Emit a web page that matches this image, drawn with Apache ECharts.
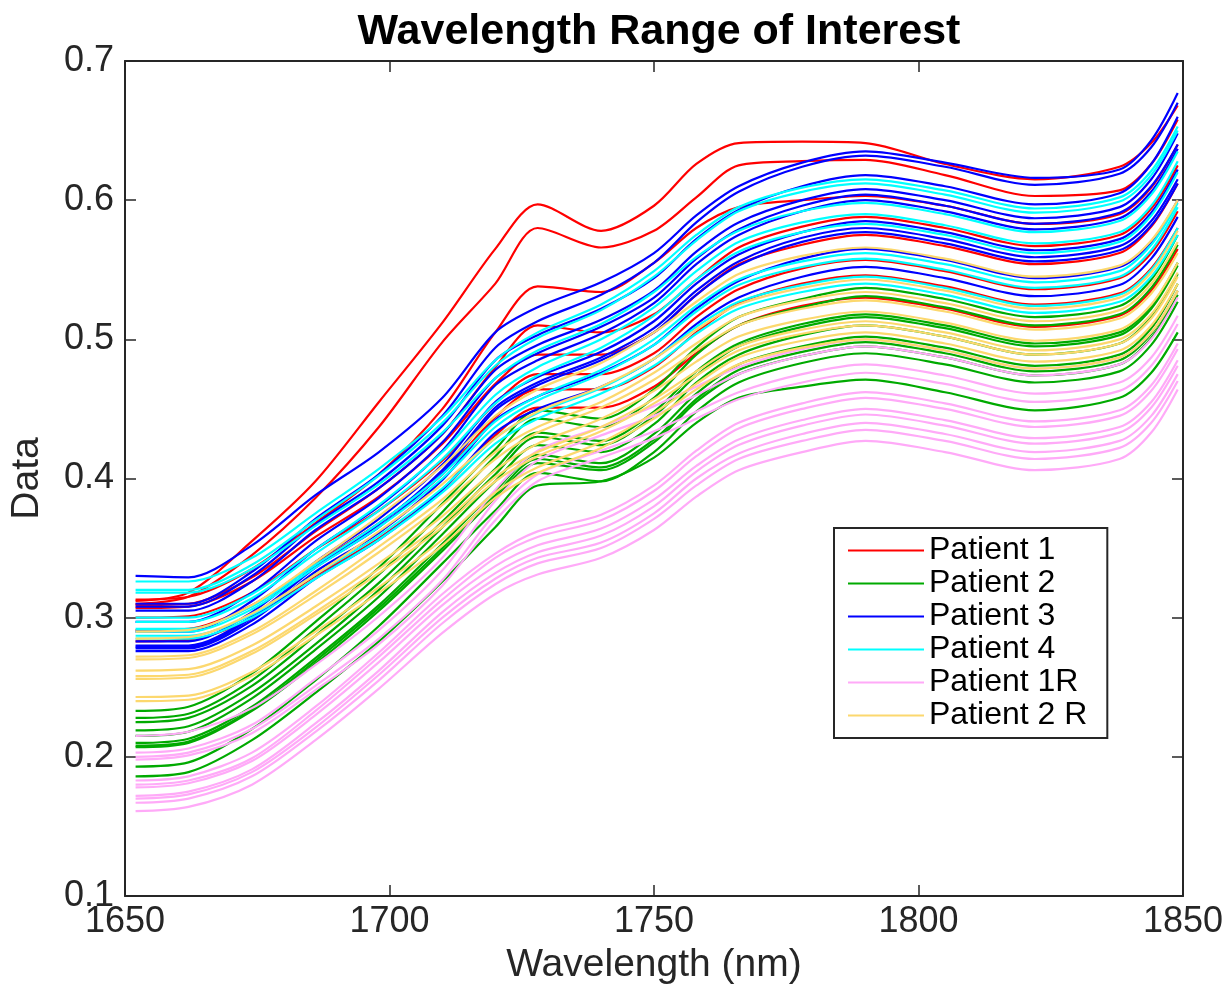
<!DOCTYPE html>
<html>
<head>
<meta charset="utf-8">
<script src="https://cdn.jsdelivr.net/npm/echarts@6/dist/echarts.min.js"></script>
<style>
html,body{margin:0;padding:0;background:#fff;}
#chart{width:1230px;height:990px;}
</style>
</head>
<body>
<div id="chart"></div>
<script>
// Wavelength sample points (nm)
var wavelengths = [1652,1662,1674,1686,1698,1710,1720,1728,1740,1750,1758,1766,1778,1790,1805,1822,1838,1844,1849];

var patientNames = ['Patient 1','Patient 2','Patient 3','Patient 4','Patient 1R','Patient 2 R'];
var patientColors = ['#ff0000','#00aa00','#0000ff','#00ffff','#ffaaf8','#fcd86e'];

var patient1 = [
  [.312,.318,.355,.398,.455,.512,.565,.597,.578,.596,.626,.641,.642,.641,.626,.615,.624,.641,.668],
  [.310,.315,.345,.386,.437,.498,.540,.580,.566,.578,.602,.625,.628,.629,.618,.603,.607,.626,.658],
  [.313,.315,.335,.368,.403,.450,.505,.538,.534,.555,.580,.595,.600,.603,.596,.583,.590,.609,.640],
  [.309,.310,.329,.362,.393,.432,.480,.510,.505,.518,.543,.566,.581,.588,.580,.567,.575,.594,.625],
  [.307,.308,.326,.358,.387,.425,.468,.489,.489,.505,.532,.554,.568,.575,.567,.554,.562,.581,.612],
  [.300,.301,.318,.349,.377,.413,.454,.475,.475,.490,.516,.536,.551,.557,.549,.536,.544,.562,.592],
  [.291,.292,.309,.339,.368,.403,.444,.464,.464,.480,.505,.526,.540,.546,.538,.525,.533,.551,.580],
  [.283,.284,.300,.330,.357,.392,.431,.451,.451,.466,.490,.510,.524,.530,.522,.509,.517,.535,.565]
];

var patient2 = [
  [.233,.236,.260,.297,.336,.382,.421,.449,.443,.464,.494,.516,.529,.537,.529,.516,.524,.543,.575],
  [.228,.231,.255,.292,.331,.376,.416,.443,.437,.458,.489,.510,.523,.531,.523,.510,.518,.537,.568],
  [.225,.228,.251,.287,.325,.369,.407,.433,.427,.448,.477,.497,.511,.518,.510,.497,.505,.524,.555],
  [.219,.222,.246,.281,.320,.365,.403,.430,.424,.445,.474,.495,.509,.516,.508,.495,.503,.522,.553],
  [.215,.218,.242,.277,.315,.360,.398,.424,.419,.439,.469,.489,.503,.510,.502,.489,.497,.516,.547],
  [.210,.213,.236,.271,.309,.353,.391,.417,.411,.432,.461,.482,.495,.502,.494,.481,.489,.508,.540],
  [.208,.211,.234,.269,.307,.350,.388,.414,.408,.428,.457,.478,.491,.498,.490,.477,.485,.504,.535],
  [.207,.210,.233,.267,.305,.348,.386,.411,.406,.426,.455,.475,.488,.495,.487,.474,.482,.501,.532],
  [.193,.196,.220,.255,.294,.339,.377,.404,.398,.419,.448,.469,.483,.490,.482,.469,.477,.496,.527],
  [.186,.189,.212,.246,.283,.326,.365,.395,.398,.415,.440,.458,.466,.471,.462,.449,.458,.476,.505]
];

var patient3 = [
  [.330,.329,.352,.388,.419,.458,.505,.523,.541,.562,.589,.610,.627,.635,.627,.616,.622,.643,.677],
  [.310,.310,.333,.371,.403,.445,.494,.513,.532,.555,.584,.606,.624,.632,.624,.611,.619,.638,.670],
  [.308,.308,.330,.367,.398,.438,.485,.503,.522,.544,.572,.593,.610,.618,.610,.597,.605,.626,.660],
  [.305,.305,.326,.363,.393,.432,.478,.496,.514,.535,.563,.584,.600,.608,.600,.587,.595,.615,.648],
  [.297,.297,.318,.355,.386,.426,.472,.490,.509,.530,.558,.579,.596,.604,.596,.583,.591,.610,.640],
  [.290,.290,.312,.349,.380,.420,.467,.485,.504,.526,.554,.575,.592,.600,.592,.579,.587,.606,.637],
  [.283,.283,.304,.340,.371,.410,.455,.473,.491,.513,.540,.561,.577,.585,.577,.564,.572,.591,.622],
  [.280,.280,.301,.337,.367,.406,.451,.469,.487,.508,.535,.556,.573,.580,.572,.559,.567,.585,.615],
  [.279,.279,.300,.336,.365,.404,.449,.467,.485,.505,.532,.553,.570,.577,.569,.556,.564,.582,.612],
  [.278,.278,.298,.333,.361,.399,.442,.459,.476,.496,.522,.542,.558,.565,.557,.544,.552,.570,.600],
  [.276,.276,.295,.328,.356,.392,.433,.450,.466,.486,.511,.530,.545,.552,.544,.531,.539,.558,.588]
];

var patient4 = [
  [.326,.326,.343,.375,.407,.444,.485,.505,.525,.549,.575,.595,.609,.615,.607,.594,.602,.621,.653],
  [.320,.320,.338,.370,.402,.440,.481,.501,.521,.545,.571,.592,.606,.612,.604,.591,.599,.618,.650],
  [.318,.318,.335,.366,.396,.433,.472,.492,.511,.534,.559,.578,.592,.598,.590,.577,.585,.604,.635],
  [.300,.300,.317,.349,.381,.419,.460,.480,.500,.523,.549,.570,.584,.590,.582,.569,.577,.596,.628],
  [.297,.297,.314,.346,.377,.414,.454,.474,.494,.517,.543,.563,.577,.583,.575,.562,.570,.589,.620],
  [.292,.292,.308,.338,.368,.403,.441,.459,.478,.500,.524,.543,.556,.562,.554,.541,.549,.568,.598],
  [.290,.290,.306,.336,.365,.400,.437,.456,.475,.496,.520,.539,.552,.558,.550,.537,.545,.564,.595],
  [.287,.287,.302,.331,.359,.393,.429,.447,.465,.486,.509,.527,.539,.545,.537,.524,.532,.550,.580],
  [.285,.285,.300,.328,.356,.390,.425,.443,.461,.481,.504,.522,.534,.540,.532,.519,.527,.545,.575]
];

var patient1R = [
  [.215,.218,.235,.266,.301,.343,.392,.420,.437,.452,.466,.480,.493,.500,.492,.479,.487,.505,.535],
  [.203,.206,.223,.256,.291,.334,.384,.413,.431,.445,.460,.475,.488,.495,.487,.474,.482,.500,.530],
  [.200,.203,.220,.251,.285,.327,.375,.403,.420,.434,.448,.462,.475,.482,.474,.461,.469,.487,.517],
  [.198,.201,.217,.248,.281,.323,.370,.398,.415,.429,.443,.457,.469,.476,.468,.455,.463,.481,.511],
  [.183,.186,.203,.236,.275,.317,.346,.362,.374,.395,.420,.440,.454,.462,.454,.441,.449,.467,.497],
  [.180,.183,.199,.233,.272,.313,.343,.358,.370,.391,.416,.436,.450,.458,.450,.437,.445,.463,.493],
  [.178,.181,.197,.230,.268,.309,.337,.352,.364,.385,.409,.428,.442,.450,.442,.429,.437,.455,.485],
  [.172,.175,.191,.224,.262,.304,.332,.347,.359,.380,.405,.424,.438,.446,.438,.425,.433,.451,.481],
  [.170,.173,.189,.221,.259,.300,.328,.343,.354,.375,.400,.418,.432,.440,.432,.419,.427,.445,.475],
  [.167,.170,.186,.218,.255,.296,.324,.339,.350,.371,.395,.414,.427,.435,.427,.414,.422,.440,.470],
  [.161,.164,.180,.212,.249,.289,.317,.331,.343,.363,.387,.406,.419,.427,.419,.406,.414,.433,.464]
];

var patient2R = [
  [.290,.291,.309,.340,.373,.409,.445,.464,.483,.505,.527,.547,.560,.566,.558,.545,.553,.571,.600],
  [.285,.286,.303,.331,.362,.396,.429,.448,.466,.486,.507,.525,.537,.543,.535,.522,.530,.548,.578],
  [.272,.273,.290,.319,.351,.385,.419,.437,.455,.476,.497,.516,.528,.534,.526,.513,.521,.540,.570],
  [.270,.271,.288,.316,.347,.381,.414,.433,.451,.471,.492,.510,.522,.528,.520,.507,.515,.533,.562],
  [.262,.263,.280,.308,.339,.373,.406,.425,.443,.463,.484,.502,.514,.520,.512,.499,.507,.525,.555],
  [.258,.259,.276,.304,.335,.368,.401,.419,.437,.457,.477,.495,.507,.513,.505,.492,.500,.518,.548],
  [.256,.257,.274,.302,.332,.365,.398,.416,.434,.454,.474,.492,.504,.510,.502,.489,.497,.515,.545],
  [.243,.244,.261,.290,.322,.356,.390,.408,.426,.447,.468,.487,.499,.505,.497,.484,.492,.510,.540],
  [.240,.241,.258,.287,.318,.352,.386,.404,.422,.443,.464,.482,.494,.500,.492,.479,.487,.505,.535]
];

var groups = [patient1, patient2, patient3, patient4, patient1R, patient2R];

var series = [];
groups.forEach(function (lines, gi) {
  lines.forEach(function (vals) {
    series.push({
      name: patientNames[gi],
      type: 'line',
      color: patientColors[gi],
      data: wavelengths.map(function (w, i) { return [w, vals[i]]; }),
      smooth: 0.3,
      showSymbol: false,
      symbol: 'none',
      silent: true,
      lineStyle: { width: 2.2, color: patientColors[gi] },
      xAxisIndex: 0,
      yAxisIndex: 0
    });
  });
});

var FONT = '"Liberation Sans", Arial, Helvetica, sans-serif';
var AX = '#262626';

var chart = echarts.init(document.getElementById('chart'), null, { renderer: 'canvas' });
chart.setOption({
  animation: false,
  backgroundColor: '#fff',
  title: {
    text: 'Wavelength Range of Interest',
    left: 654,
    textAlign: 'center',
    top: 6,
    textStyle: { fontFamily: FONT, fontSize: 43, fontWeight: 'bold', color: '#000' }
  },
  grid: { left: 124, right: 47, top: 61, bottom: 92, containLabel: false },
  legend: {
    data: patientNames,
    orient: 'vertical',
    left: 834,
    top: 528,
    padding: [6, 20, 6, 14],
    itemGap: 0,
    itemWidth: 76,
    itemHeight: 2,
    icon: 'rect',
    borderColor: AX,
    borderWidth: 2,
    backgroundColor: '#fff',
    selectedMode: false,
    textStyle: { fontFamily: FONT, fontSize: 32, color: '#000', lineHeight: 33 }
  },
  xAxis: [{
    type: 'value', min: 1650, max: 1850, interval: 50, position: 'bottom',
    name: 'Wavelength (nm)', nameLocation: 'middle', nameGap: 50,
    nameTextStyle: { fontFamily: FONT, fontSize: 39, color: AX },
    axisLine: { show: true, onZero: false, lineStyle: { color: AX, width: 2 } },
    axisTick: { show: true, inside: true, length: 11, lineStyle: { color: AX, width: 1.5 } },
    axisLabel: { fontFamily: FONT, fontSize: 36, color: AX, margin: 8,
      formatter: function (v) { return String(v); } },
    splitLine: { show: false }
  }, {
    type: 'value', min: 1650, max: 1850, interval: 50, position: 'top',
    axisLine: { show: true, onZero: false, lineStyle: { color: AX, width: 2 } },
    axisTick: { show: true, inside: true, length: 11, lineStyle: { color: AX, width: 1.5 } },
    axisLabel: { show: false },
    splitLine: { show: false }
  }],
  yAxis: [{
    type: 'value', min: 0.1, max: 0.7, interval: 0.1, position: 'left',
    name: 'Data', nameLocation: 'middle', nameGap: 78, nameRotate: 90,
    nameTextStyle: { fontFamily: FONT, fontSize: 39, color: AX },
    axisLine: { show: true, onZero: false, lineStyle: { color: AX, width: 2 } },
    axisTick: { show: true, inside: true, length: 11, lineStyle: { color: AX, width: 1.5 } },
    axisLabel: { fontFamily: FONT, fontSize: 36, color: AX, margin: 11,
      formatter: function (v) { return v.toFixed(1); } },
    splitLine: { show: false }
  }, {
    type: 'value', min: 0.1, max: 0.7, interval: 0.1, position: 'right',
    axisLine: { show: true, onZero: false, lineStyle: { color: AX, width: 2 } },
    axisTick: { show: true, inside: true, length: 11, lineStyle: { color: AX, width: 1.5 } },
    axisLabel: { show: false },
    splitLine: { show: false }
  }],
  series: series
});
</script>
</body>
</html>
